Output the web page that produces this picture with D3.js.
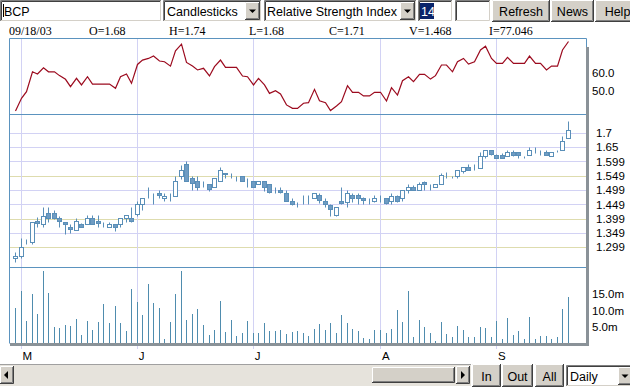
<!DOCTYPE html>
<html><head><meta charset="utf-8">
<script src="https://cdn.jsdelivr.net/npm/d3@7"></script>
<style>body{margin:0;background:#fff;overflow:hidden}svg{display:block}</style>
</head><body>
<svg id="c" width="630" height="387"></svg>
<script>
// ---------- DATA ----------
const openP = [1.263,1.270,1.320,1.320,1.392,1.380,1.418,1.418,1.401,1.389,1.370,1.360,1.380,1.380,1.401,1.392,1.378,1.372,1.380,1.380,
1.401,1.401,1.416,1.450,1.480,1.488,1.490,1.471,1.471,1.480,1.550,1.590,1.541,1.531,1.521,1.521,1.509,1.531,1.558,1.558,
1.550,1.550,1.531,1.531,1.521,1.531,1.521,1.500,1.500,1.488,1.462,1.451,1.462,1.462,1.471,1.482,1.462,1.448,1.412,1.462,
1.459,1.482,1.482,1.471,1.465,1.462,1.471,1.471,1.462,1.479,1.471,1.500,1.509,1.500,1.529,1.517,1.512,1.521,1.550,1.541,
1.550,1.567,1.579,1.579,1.577,1.619,1.638,1.622,1.622,1.619,1.631,1.631,1.619,1.622,1.636,1.631,1.631,1.619,1.631,1.638,1.680];
const highP = [1.285,1.331,1.328,1.389,1.405,1.439,1.439,1.430,1.409,1.389,1.381,1.401,1.386,1.412,1.412,1.412,1.389,1.389,1.380,1.401,
1.412,1.439,1.462,1.471,1.509,1.488,1.500,1.488,1.488,1.550,1.587,1.601,1.550,1.550,1.531,1.521,1.541,1.581,1.560,1.558,
1.550,1.550,1.541,1.531,1.531,1.531,1.521,1.509,1.509,1.500,1.471,1.459,1.482,1.482,1.488,1.488,1.471,1.451,1.439,1.509,
1.500,1.488,1.488,1.477,1.471,1.482,1.482,1.471,1.488,1.482,1.500,1.521,1.517,1.529,1.531,1.521,1.521,1.558,1.564,1.550,
1.570,1.579,1.590,1.590,1.631,1.638,1.638,1.624,1.628,1.639,1.639,1.631,1.619,1.649,1.649,1.638,1.638,1.631,1.638,1.689,1.740];
const lowP = [1.250,1.262,1.312,1.312,1.370,1.370,1.389,1.398,1.370,1.346,1.349,1.360,1.370,1.380,1.381,1.372,1.370,1.370,1.358,1.370,
1.389,1.389,1.409,1.430,1.471,1.450,1.471,1.463,1.462,1.480,1.538,1.531,1.500,1.500,1.509,1.498,1.509,1.531,1.541,1.541,
1.531,1.531,1.509,1.509,1.521,1.498,1.488,1.488,1.488,1.462,1.448,1.439,1.450,1.450,1.471,1.453,1.442,1.409,1.409,1.451,
1.439,1.459,1.451,1.451,1.451,1.459,1.459,1.451,1.451,1.459,1.462,1.488,1.500,1.500,1.500,1.500,1.512,1.521,1.541,1.541,
1.541,1.558,1.570,1.570,1.577,1.610,1.622,1.610,1.610,1.619,1.619,1.610,1.610,1.622,1.628,1.622,1.622,1.619,1.631,1.638,1.680];
const closeP = [1.270,1.300,1.320,1.389,1.384,1.410,1.403,1.401,1.393,1.381,1.363,1.392,1.372,1.401,1.381,1.384,1.378,1.381,1.372,1.401,
1.412,1.393,1.450,1.471,1.480,1.488,1.482,1.480,1.471,1.531,1.570,1.531,1.523,1.512,1.521,1.502,1.541,1.570,1.555,1.558,
1.550,1.532,1.531,1.512,1.531,1.512,1.492,1.500,1.492,1.462,1.451,1.451,1.462,1.462,1.488,1.465,1.451,1.433,1.439,1.453,
1.488,1.471,1.473,1.465,1.465,1.471,1.471,1.453,1.479,1.462,1.500,1.509,1.500,1.521,1.521,1.517,1.521,1.552,1.550,1.541,
1.570,1.579,1.570,1.579,1.619,1.638,1.624,1.612,1.612,1.631,1.622,1.622,1.619,1.638,1.636,1.631,1.622,1.631,1.631,1.671,1.710];
const volumeM = [10.7,16.0,6.8,15.0,8.9,22.1,15.5,5.0,4.6,5.6,5.3,7.6,2.5,7.0,4.1,6.5,12.0,6.3,11.4,6.3,
3.9,16.5,12.6,8.6,18.1,12.3,10.7,1.5,6.5,15.0,22.1,7.1,8.9,10.5,5.5,2.5,4.1,13.1,3.5,7.1,
2.2,3.2,6.8,3.2,3.2,6.2,3.8,3.8,4.0,2.8,3.5,3.8,3.2,2.2,4.4,5.9,4.1,6.3,3.3,8.6,
6.3,4.4,3.9,1.6,1.3,4.1,4.1,3.3,4.4,10.2,6.5,16.0,1.9,7.1,5.0,3.2,0.7,6.5,2.8,1.9,
5.3,4.1,1.9,1.9,5.0,4.7,1.9,6.9,1.3,7.7,2.5,3.8,1.3,8.0,1.3,2.2,2.2,1.3,1.9,10.5,14.1];
const rsi = [39.1,46.0,49.6,60.5,59.3,62.7,60.5,60.5,58.4,56.4,52.4,56.9,53.3,57.8,53.8,53.8,53.8,53.8,51.5,57.8,
59.3,54.2,64.5,66.9,67.8,69.1,66.4,66.0,63.6,72.0,75.6,65.6,63.6,61.5,62.4,58.2,63.3,66.9,62.9,62.9,
62.9,58.2,57.8,53.3,56.9,53.3,48.7,50.2,48.4,42.4,40.5,40.5,43.3,43.6,50.9,44.7,43.6,39.3,41.8,44.2,
52.9,49.3,49.3,47.3,47.3,49.3,49.3,44.5,51.8,47.8,55.6,57.8,55.1,59.1,59.1,56.5,58.4,64.2,64.2,60.5,
66.0,67.8,64.7,66.0,72.4,74.5,67.8,65.1,65.1,68.4,65.1,65.1,65.1,69.1,65.1,65.1,61.5,63.6,63.6,72.4,77.046];
const monthLabels = ["M","J","J","A","S"];
const monthStartIdx = [1,22,43,66,87];
const priceTicks = [1.7,1.65,1.6,1.55,1.5,1.45,1.4,1.35,1.3];
const priceTickLabels = ["1.7","1.65","1.599","1.549","1.499","1.449","1.399","1.349","1.299"];
const rsiTicks = [60,50];
const rsiTickLabels = ["60.0","50.0"];
const volTicks = [15,10,5];
const volTickLabels = ["15.0m","10.0m","5.0m"];
const infoLabels = ["09/18/03","O=1.68","H=1.74","L=1.68","C=1.71","V=1.468","I=77.046"];
const toolbarSymbol = "BCP";
const chartTypes = ["Candlesticks"];
const indicators = ["Relative Strength Index"];
const indicatorPeriod = "14";
const toolButtons = ["Refresh","News","Help"];
const zoomButtons = ["In","Out","All"];
const intervals = ["Daily"];

// ---------- CHART ----------
const svg = d3.select("#c");
const N = closeP.length;
const L = 9.5, R = 586.5, T1 = 38.5, T2 = 114.5, T3 = 267.5, B = 343.5;
const x = d3.scaleLinear().domain([0, N - 1]).range([15, 568]);
const yP = d3.scaleLinear().domain([1.3, 1.7]).range([247.3, 132.7]);
const yR = d3.scaleLinear().domain([50, 60]).range([91, 72.7]);
const yV = d3.scaleLinear().domain([0, 15]).range([343.5, 294.3]);
const cx = i => Math.round(x(i)) + 0.5;
const FONT = "'Liberation Sans', Arial, sans-serif";

const blue = "#5a8fb8", fillBlue = "#6f9cc3", volColor = "#4f8cae", rsiColor = "#9c0b1f";
const gridLav = "#d2d2f4", gridYel = "#dedcae";
const yellowTicks = new Set([1.55, 1.4, 1.3]);

// horizontal price grid
svg.append("g").selectAll("line").data(priceTicks).join("line")
  .attr("x1", L).attr("x2", R)
  .attr("y1", d => Math.round(yP(d)) + 0.5).attr("y2", d => Math.round(yP(d)) + 0.5)
  .attr("stroke", d => yellowTicks.has(d) ? gridYel : gridLav);

// vertical month grid
svg.append("g").selectAll("line").data(monthStartIdx).join("line")
  .attr("x1", cx).attr("x2", cx).attr("y1", T1).attr("y2", 349)
  .attr("stroke", gridLav);

// RSI line
svg.append("path").datum(rsi)
  .attr("d", d3.line().x((d, i) => cx(i)).y(d => yR(d)))
  .attr("fill", "none").attr("stroke", rsiColor).attr("stroke-width", 1.2);

// candles
const cg = svg.append("g");
const idx = d3.range(N);
cg.selectAll("line.w").data(idx).join("line").attr("class", "w")
  .attr("x1", cx).attr("x2", cx)
  .attr("y1", i => Math.round(yP(highP[i])) + 0.5)
  .attr("y2", i => Math.round(yP(lowP[i])) + 0.5)
  .attr("stroke", blue);
cg.selectAll("rect").data(idx).join("rect")
  .attr("x", i => cx(i) - 2)
  .attr("width", 4)
  .attr("y", i => Math.round(yP(Math.max(openP[i], closeP[i]))) + 0.5)
  .attr("height", i => Math.max(0, Math.round(yP(Math.min(openP[i], closeP[i]))) - Math.round(yP(Math.max(openP[i], closeP[i])))))
  .attr("fill", i => closeP[i] < openP[i] ? fillBlue : "#fff")
  .attr("stroke", blue);

// volume bars
svg.append("g").selectAll("line").data(idx).join("line")
  .attr("x1", cx).attr("x2", cx)
  .attr("y1", B).attr("y2", i => Math.round(yV(volumeM[i])))
  .attr("stroke", volColor);

// panel frame
const frame = svg.append("g").attr("stroke", "#5b93bf").attr("fill", "none");
frame.append("line").attr("x1", L).attr("x2", R).attr("y1", T1).attr("y2", T1);
frame.append("line").attr("x1", L).attr("x2", R).attr("y1", T2).attr("y2", T2);
frame.append("line").attr("x1", L).attr("x2", R).attr("y1", T3).attr("y2", T3);
frame.append("line").attr("x1", L).attr("x2", L).attr("y1", T1).attr("y2", B);
frame.append("line").attr("x1", R).attr("x2", R).attr("y1", T1).attr("y2", 47);
svg.append("rect").attr("x", 586).attr("y", 47).attr("width", 3).attr("height", 299).attr("fill", "#8a9298");
svg.append("rect").attr("x", 10).attr("y", 343).attr("width", 579).attr("height", 3).attr("fill", "#8a9298");

// right axes
function rightAxis(scale, ticks, labels, xpos) {
  const g = svg.append("g").attr("transform", `translate(${xpos},0)`)
    .call(d3.axisRight(scale).tickValues(ticks).tickSize(0).tickPadding(0)
      .tickFormat((d, i) => labels[i]));
  g.select(".domain").remove();
  g.selectAll("text").attr("font-family", FONT).attr("font-size", 11.5).attr("fill", "#000");
}
rightAxis(yP, priceTicks, priceTickLabels, 596);
rightAxis(yR, rsiTicks, rsiTickLabels, 592);
rightAxis(yV, volTicks, volTickLabels, 592);

// month axis
const mg = svg.append("g").attr("transform", "translate(0,349)")
  .call(d3.axisBottom(x).tickValues(monthStartIdx).tickSize(0).tickPadding(0)
    .tickFormat((d, i) => monthLabels[i]));
mg.select(".domain").remove();
mg.selectAll("text").attr("font-family", FONT).attr("font-size", 11.5)
  .attr("text-anchor", "start").attr("dx", 1.5).attr("dy", 0).attr("y", 11).attr("fill", "#000");

// info line
svg.append("g").selectAll("text").data(infoLabels).join("text")
  .attr("x", (d, i) => 9 + i * 80).attr("y", 35)
  .attr("font-family", "'Liberation Serif', 'Times New Roman', serif").attr("font-size", 12)
  .text(d => d);

// ---------- UI CONTROLS ----------
const ui = svg.append("g");
function sunken(x0, y0, w, h, fill) {
  ui.append("rect").attr("x", x0).attr("y", y0).attr("width", w).attr("height", h).attr("fill", fill || "#fff");
  ui.append("path").attr("d", `M${x0 + 0.5},${y0 + h}V${y0 + 0.5}H${x0 + w}`).attr("stroke", "#808080").attr("fill", "none");
  ui.append("path").attr("d", `M${x0 + 1.5},${y0 + h - 1}V${y0 + 1.5}H${x0 + w - 1}`).attr("stroke", "#404040").attr("fill", "none");
  ui.append("path").attr("d", `M${x0},${y0 + h - 0.5}H${x0 + w - 0.5}V${y0}`).attr("stroke", "#fff").attr("fill", "none");
  ui.append("path").attr("d", `M${x0 + 1},${y0 + h - 1.5}H${x0 + w - 1.5}V${y0 + 1}`).attr("stroke", "#d4d0c8").attr("fill", "none");
}
function raised(x0, y0, w, h) {
  ui.append("rect").attr("x", x0).attr("y", y0).attr("width", w).attr("height", h).attr("fill", "#d4d0c8");
  ui.append("path").attr("d", `M${x0 + 0.5},${y0 + h}V${y0 + 0.5}H${x0 + w}`).attr("stroke", "#fff").attr("fill", "none");
  ui.append("path").attr("d", `M${x0},${y0 + h - 0.5}H${x0 + w - 0.5}V${y0}`).attr("stroke", "#404040").attr("fill", "none");
  ui.append("path").attr("d", `M${x0 + 1},${y0 + h - 1.5}H${x0 + w - 1.5}V${y0 + 1}`).attr("stroke", "#808080").attr("fill", "none");
}
function label(t, x0, y0, anchor, color) {
  ui.append("text").attr("x", x0).attr("y", y0).attr("font-family", FONT).attr("font-size", 12.5)
    .attr("text-anchor", anchor || "start").attr("fill", color || "#000").text(t);
}
function dropButton(x0, y0, w, h) {
  raised(x0, y0, w, h);
  const mx = x0 + w / 2, my = y0 + h / 2;
  ui.append("path").attr("d", `M${mx - 3.5},${my - 1.5}H${mx + 3.5}L${mx},${my + 2}Z`).attr("fill", "#000");
}
// symbol input
sunken(0, 0, 162, 22);
ui.append("line").attr("x1", 3.5).attr("x2", 3.5).attr("y1", 4).attr("y2", 17).attr("stroke", "#000");
label(toolbarSymbol, 4, 16);
// chart type select
sunken(163, 0, 99, 22);
label(chartTypes[0], 167, 16);
dropButton(245, 2, 15, 18);
// indicator select
sunken(264, 0, 153, 22);
label(indicators[0], 267, 16);
dropButton(400, 2, 15, 18);
// period input
sunken(418, 0, 35, 22);
ui.append("rect").attr("x", 420).attr("y", 3).attr("width", 14).attr("height", 16).attr("fill", "#0a246a");
label(indicatorPeriod, 421, 16, "start", "#fff");
sunken(455, 0, 36, 22);
// buttons
const btnX = [492, 551, 595], btnW = [58, 43, 45];
toolButtons.forEach((t, i) => { raised(btnX[i], 0, btnW[i], 22); label(t, btnX[i] + btnW[i] / 2, 16, "middle"); });

// bottom scrollbar
ui.append("rect").attr("x", 0).attr("y", 365).attr("width", 471).attr("height", 21).attr("fill", "#e6e3dc");
ui.append("line").attr("x1", 0).attr("x2", 471).attr("y1", 364.5).attr("y2", 364.5).attr("stroke", "#a0a0a0");
raised(0, 366, 14, 18);
ui.append("path").attr("d", "M4,375L8,371V379Z").attr("fill", "#000");
raised(372, 367, 83, 16);
raised(456, 366, 14, 18);
ui.append("path").attr("d", "M465,375L461,371V379Z").attr("fill", "#000");
const zX = [472, 502, 535], zW = [29, 31, 29];
zoomButtons.forEach((t, i) => { raised(zX[i], 364, zW[i], 23); label(t, zX[i] + zW[i] / 2, 381, "middle"); });
sunken(566, 365, 66, 22);
label(intervals[0], 570, 381);
dropButton(618, 367, 14, 18);
</script>
</body></html>
